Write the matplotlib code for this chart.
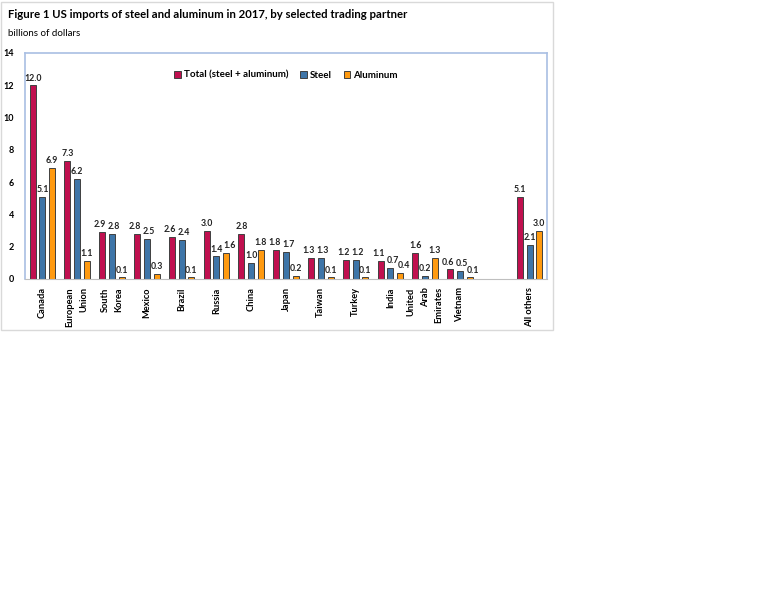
import numpy as np
import matplotlib
matplotlib.use("Agg")
import matplotlib.pyplot as plt
from matplotlib.patches import Rectangle

plt.rcParams["font.family"] = ["Lato", "DejaVu Sans"]

partners = ["Canada", "European\nUnion", "South\nKorea", "Mexico", "Brazil", "Russia",
            "China", "Japan", "Taiwan", "Turkey", "India", "United\nArab\nEmirates",
            "Vietnam", "All others"]
total = [12.0, 7.3, 2.9, 2.8, 2.6, 3.0, 2.8, 1.8, 1.3, 1.2, 1.1, 1.6, 0.6, 5.1]
steel = [5.1, 6.2, 2.8, 2.5, 2.4, 1.4, 1.0, 1.7, 1.3, 1.2, 0.7, 0.2, 0.5, 2.1]
aluminum = [6.9, 1.1, 0.1, 0.3, 0.1, 1.6, 1.8, 0.2, 0.1, 0.1, 0.4, 1.3, 0.1, 3.0]

SERIES = [
    ("Total (steel + aluminum)", total, "#C0104F"),
    ("Steel", steel, "#3E75A8"),
    ("Aluminum", aluminum, "#FF9A10"),
]

# one empty slot between Vietnam and All others
pos = np.array(list(range(13)) + [14], dtype=float)

fig = plt.figure(figsize=(7.68, 6.14), dpi=100)
fig.patches.append(Rectangle((0.0015, 0.4625), 0.7185, 0.535, transform=fig.transFigure,
                             fill=False, edgecolor="#D9D9D9", linewidth=1.0))
ax = fig.add_axes([25 / 768, (614 - 279) / 614, 522 / 768, 226 / 614])

offsets = [-0.28, 0.0, 0.28]
width = 0.17
for si, ((name, vals, color), off) in enumerate(zip(SERIES, offsets)):
    bars = ax.bar(pos + off, vals, width=width, color=color, edgecolor="#404040",
                  linewidth=0.7, label=name)
    for i, (b, v) in enumerate(zip(bars, vals)):
        dx = 0
        # nudge labels apart where neighbouring bars have similar heights
        if si == 0 and abs(v - steel[i]) < 0.6:
            dx = -1.5
        elif si == 1 and abs(v - total[i]) < 0.6:
            dx = 1.5
        elif si == 2 and abs(v - steel[i]) < 0.6:
            dx = 2.5
        ax.annotate(f"{v:.1f}", (b.get_x() + b.get_width() / 2, v), xytext=(dx, 2),
                    textcoords="offset points", ha="center", va="bottom",
                    fontsize=6.3, fontweight="bold", color="#222222")

ax.set_xlim(-0.5, 14.5)
ax.set_ylim(0, 14)
ax.set_yticks(range(0, 15, 2))
ax.tick_params(axis="y", length=0, pad=8, labelsize=6.5)
for lab in ax.get_yticklabels():
    lab.set_fontweight("bold")
ax.set_xticks(pos)
ax.set_xticklabels(partners, rotation=90, fontsize=6.7, fontweight="bold",
                   va="top", ha="center", multialignment="right", linespacing=1.7)
ax.tick_params(axis="x", length=0, pad=6)

for side in ["left", "top", "right"]:
    ax.spines[side].set_color("#A9BFE3")
    ax.spines[side].set_linewidth(1.2)
ax.spines["bottom"].set_color("#BFBFBF")

ax.legend(loc="upper center", bbox_to_anchor=(0.5, 0.96), ncol=3, frameon=False,
          prop={"weight": "bold", "size": 7}, handlelength=0.7,
          handleheight=0.7, handletextpad=0.3, columnspacing=1.2)

fig.text(8 / 768, 1 - 14 / 614, "Figure 1 US imports of steel and aluminum in 2017, by selected trading partner",
         fontsize=8.2, fontweight="bold", ha="left", va="center")
fig.text(8 / 768, 1 - 33 / 614, "billions of dollars", fontsize=7, ha="left", va="center")

fig.savefig("out.png", dpi=100)
